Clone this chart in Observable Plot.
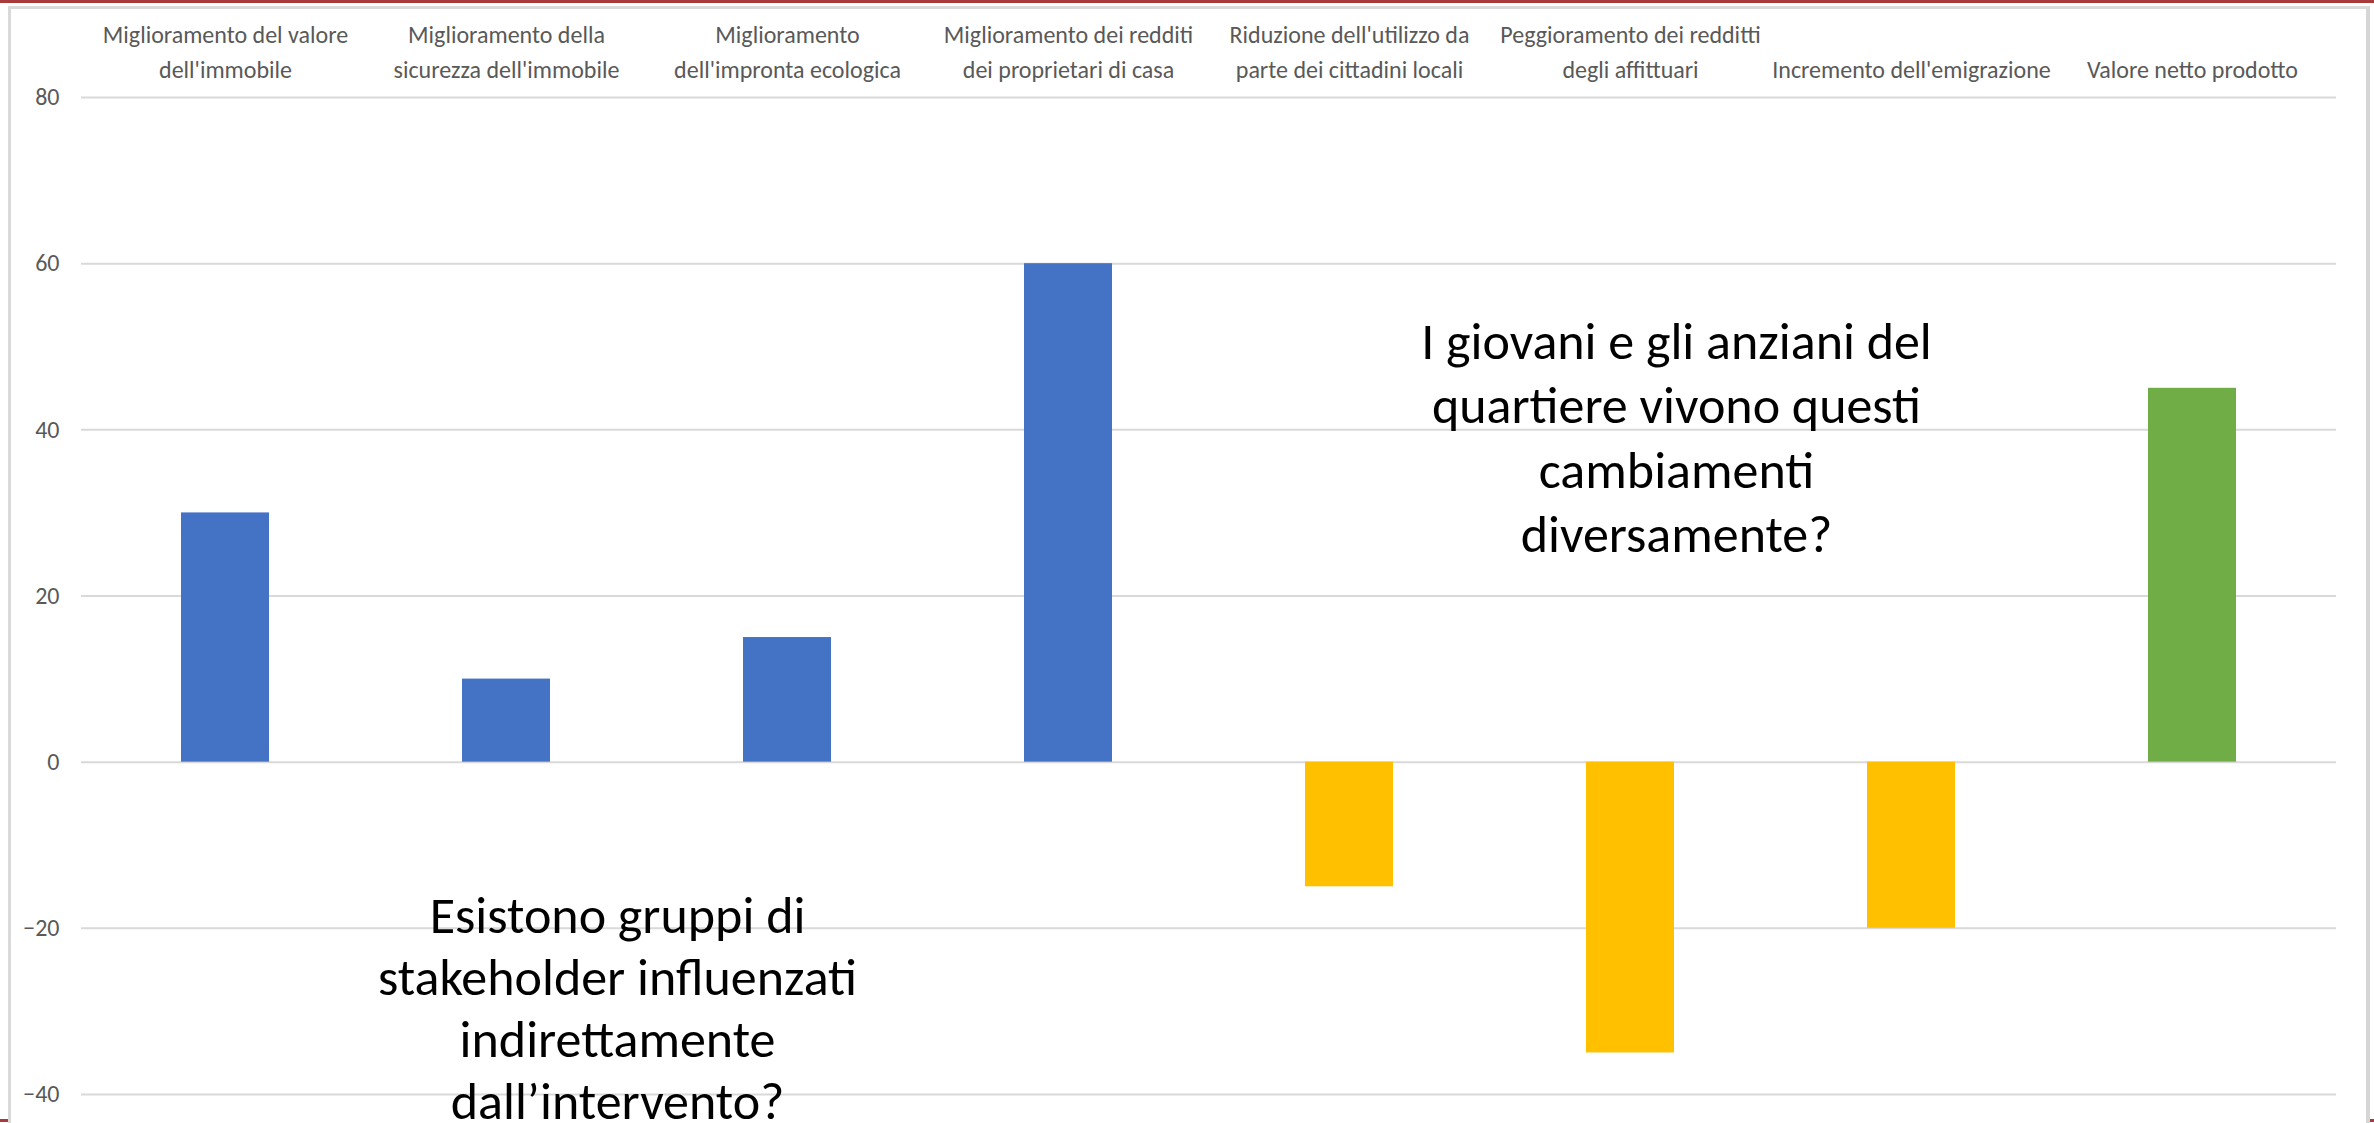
<!DOCTYPE html>
<html>
<head>
<meta charset="utf-8">
<script src="https://cdn.jsdelivr.net/npm/d3@7"></script>
<script src="https://cdn.jsdelivr.net/npm/@observablehq/plot@0.6"></script>
<style>
  html, body { margin: 0; padding: 0; background: #ffffff; overflow: hidden; }
  #stage { position: relative; width: 2374px; height: 1123px; background: #ffffff; }
  #redTop { position: absolute; left: 0; top: 0; width: 2374px; height: 3px; background: #a83a3c; }
  #redBottom { position: absolute; left: 0; top: 1119px; width: 2374px; height: 3px; background: #a83a3c; }
  #box { position: absolute; left: 8px; top: 6px; width: 2355px; height: 1117px; background: #ffffff;
         border-left: 3px solid #d9d9d9; border-top: 3px solid #d9d9d9; border-right: 4px solid #d6d6d6; }
  #chart { position: absolute; left: 0; top: 0; }
</style>
</head>
<body>
<div id="stage">
  <div id="redTop"></div>
  <div id="redBottom"></div>
  <div id="box"></div>
  <div id="chart"></div>
</div>
<script>
// ---- data ----
const categories = [
  "Miglioramento del valore dell'immobile",
  "Miglioramento della sicurezza dell'immobile",
  "Miglioramento dell'impronta ecologica",
  "Miglioramento dei redditi dei proprietari di casa",
  "Riduzione dell'utilizzo da parte dei cittadini locali",
  "Peggioramento dei redditti degli affittuari",
  "Incremento dell'emigrazione",
  "Valore netto prodotto"
];
const categoryLabels = [
  "Miglioramento del valore\ndell'immobile",
  "Miglioramento della\nsicurezza dell'immobile",
  "Miglioramento\ndell'impronta ecologica",
  "Miglioramento dei redditi\ndei proprietari di casa",
  "Riduzione dell'utilizzo da\nparte dei cittadini locali",
  "Peggioramento dei redditti\ndegli affittuari",
  "Incremento dell'emigrazione",
  "Valore netto prodotto"
];
const values = [30, 10, 15, 60, -15, -35, -20, 45];
const kinds = ["beneficio", "beneficio", "beneficio", "beneficio", "costo", "costo", "costo", "netto"];
const yTicks = [-40, -20, 0, 20, 40, 60, 80];
const annotationLeft = "Esistono gruppi di\nstakeholder influenzati\nindirettamente\ndall\u2019intervento?";
const annotationRight = "I giovani e gli anziani del\nquartiere vivono questi\ncambiamenti\ndiversamente?";

// ---- table ----
const rows = categories.map((c, i) => ({category: c, label: categoryLabels[i], value: values[i], kind: kinds[i]}));
const labelOf = new Map(rows.map(r => [r.category, r.label]));

const FONT = "Carlito, Lato, 'Liberation Sans', sans-serif";

const chart = Plot.plot({
  width: 2374,
  height: 1123,
  marginLeft: 81,
  marginRight: 38,
  marginTop: 97,
  marginBottom: 29,
  style: {background: "transparent", fontFamily: FONT, overflow: "visible"},
  x: {domain: categories, paddingInner: 0.687, paddingOuter: 0.3435, axis: null},
  y: {domain: [-40, 80], axis: null, label: null},
  color: {domain: ["beneficio", "costo", "netto"], range: ["#4472c4", "#ffc000", "#70ad47"]},
  marks: [
    Plot.gridY(yTicks, {stroke: "#d9d9d9", strokeOpacity: 1, strokeWidth: 2}),
    Plot.axisY(yTicks, {tickSize: 0, tickPadding: 22, fontSize: 24, fill: "#595959", label: null}),
    Plot.barY(rows, {x: "category", y: "value", fill: "kind"}),
    Plot.text(categories, {
      x: d => d, text: d => labelOf.get(d),
      frameAnchor: "top", lineAnchor: "bottom", dy: -20,
      fontSize: 24, lineHeight: 1.42, fill: "#595959"
    }),
    Plot.text([annotationLeft], {
      x: () => categories[1], y: () => -29.4, dx: 111,
      text: d => d, lineAnchor: "middle", fontSize: 52, lineHeight: 1.19, fill: "#000000"
    }),
    Plot.text([annotationRight], {
      x: () => categories[5], y: () => 39.4, dx: 46,
      text: d => d, lineAnchor: "middle", fontSize: 52, lineHeight: 1.24, fill: "#000000"
    })
  ]
});
document.getElementById("chart").appendChild(chart);
</script>
</body>
</html>
